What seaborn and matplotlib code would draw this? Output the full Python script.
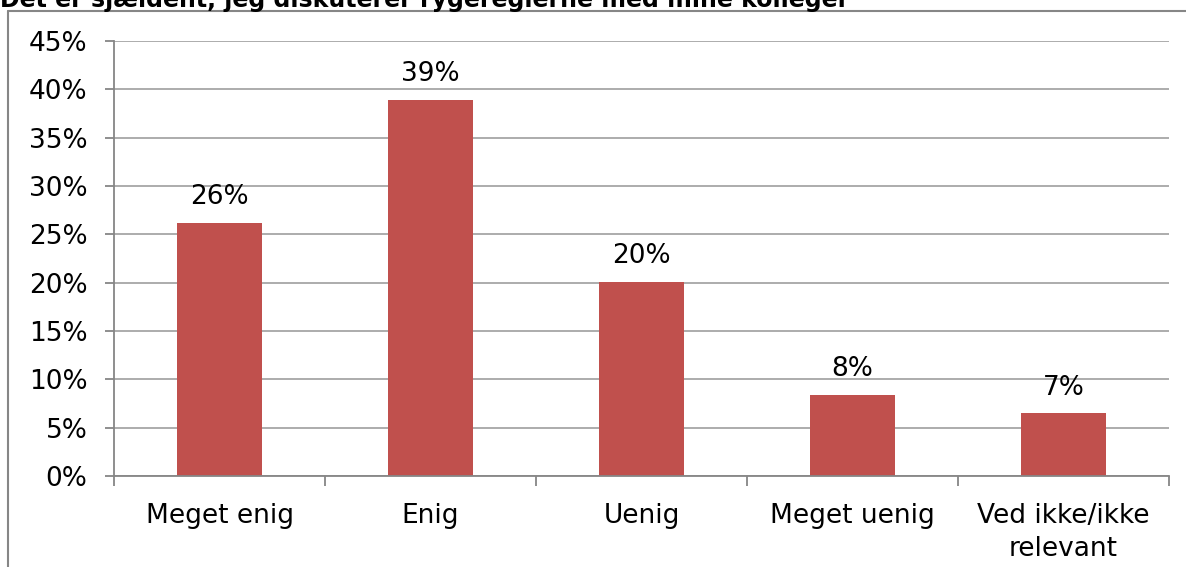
import matplotlib
matplotlib.use("Agg")
import matplotlib.pyplot as plt
from matplotlib.lines import Line2D
import seaborn as sns
import pandas as pd

categories = ["Meget enig", "Enig", "Uenig", "Meget uenig", "Ved ikke/ikke\nrelevant"]
values = [26.2, 38.9, 20.1, 8.4, 6.5]
labels = ["26%", "39%", "20%", "8%", "7%"]
yticks = [0, 5, 10, 15, 20, 25, 30, 35, 40, 45]
title = "Det er sjældent, jeg diskuterer rygereglerne med mine kolleger"

sns.set_style("white")
plt.rcParams['font.family'] = ['DejaVu Sans']
plt.rcParams['text.color'] = 'black'
plt.rcParams['xtick.color'] = 'black'
plt.rcParams['ytick.color'] = 'black'

W, H = 1186, 567
fig = plt.figure(figsize=(W / 100, H / 100), dpi=100)
ax = fig.add_axes([114 / W, 1 - 476 / H, (1169 - 114) / W, (476 - 41) / H])

df = pd.DataFrame({"cat": categories, "val": values})
sns.barplot(data=df, x="cat", y="val", color="#C0504D", saturation=1, width=0.4, ax=ax)

FS = 19
ax.set_ylim(0, 45)
ax.set_xlim(-0.5, 4.5)
ax.set_yticks(yticks)
ax.set_yticklabels([f"{t}%" for t in yticks], fontsize=FS, color="black")
ax.set_xlabel("")
ax.set_ylabel("")
ax.yaxis.grid(True, color="#A6A6A6", linewidth=1.3)
ax.set_axisbelow(True)

for s in ["top", "right"]:
    ax.spines[s].set_visible(False)
for s in ["left", "bottom"]:
    ax.spines[s].set_color("#868686")
    ax.spines[s].set_linewidth(1.3)

ax.tick_params(axis="y", which="major", left=True, length=6.5, width=1.3, color="#868686", pad=12.5, labelcolor="black")
ax.set_xticks(range(len(categories)))
ax.set_xticklabels(categories, fontsize=FS, linespacing=1.35, color="black")
ax.tick_params(axis="x", which="major", bottom=False, pad=16)
ax.set_xticks([i - 0.5 for i in range(len(categories) + 1)], minor=True)
ax.tick_params(axis="x", which="minor", bottom=True, length=7, width=1.3, color="#868686")

for p, lab in zip(ax.patches, labels):
    p.set_edgecolor("none")
    ax.annotate(lab, (p.get_x() + p.get_width() / 2, p.get_height()),
                xytext=(0, 9), textcoords="offset points",
                ha="center", va="bottom", fontsize=FS, color="black")

# outer chart frame (partially visible)
fig.add_artist(Line2D([8 / W, 8 / W], [0, 1 - 11 / H], transform=fig.transFigure, color="#868686", lw=1.5))
fig.add_artist(Line2D([8 / W, 1], [1 - 11 / H, 1 - 11 / H], transform=fig.transFigure, color="#868686", lw=1.5))

fig.text(0.0, 1 - 7 / H, title, fontsize=17, fontweight="bold", ha="left", va="baseline", color="black")

fig.savefig("out.png", dpi=100)
